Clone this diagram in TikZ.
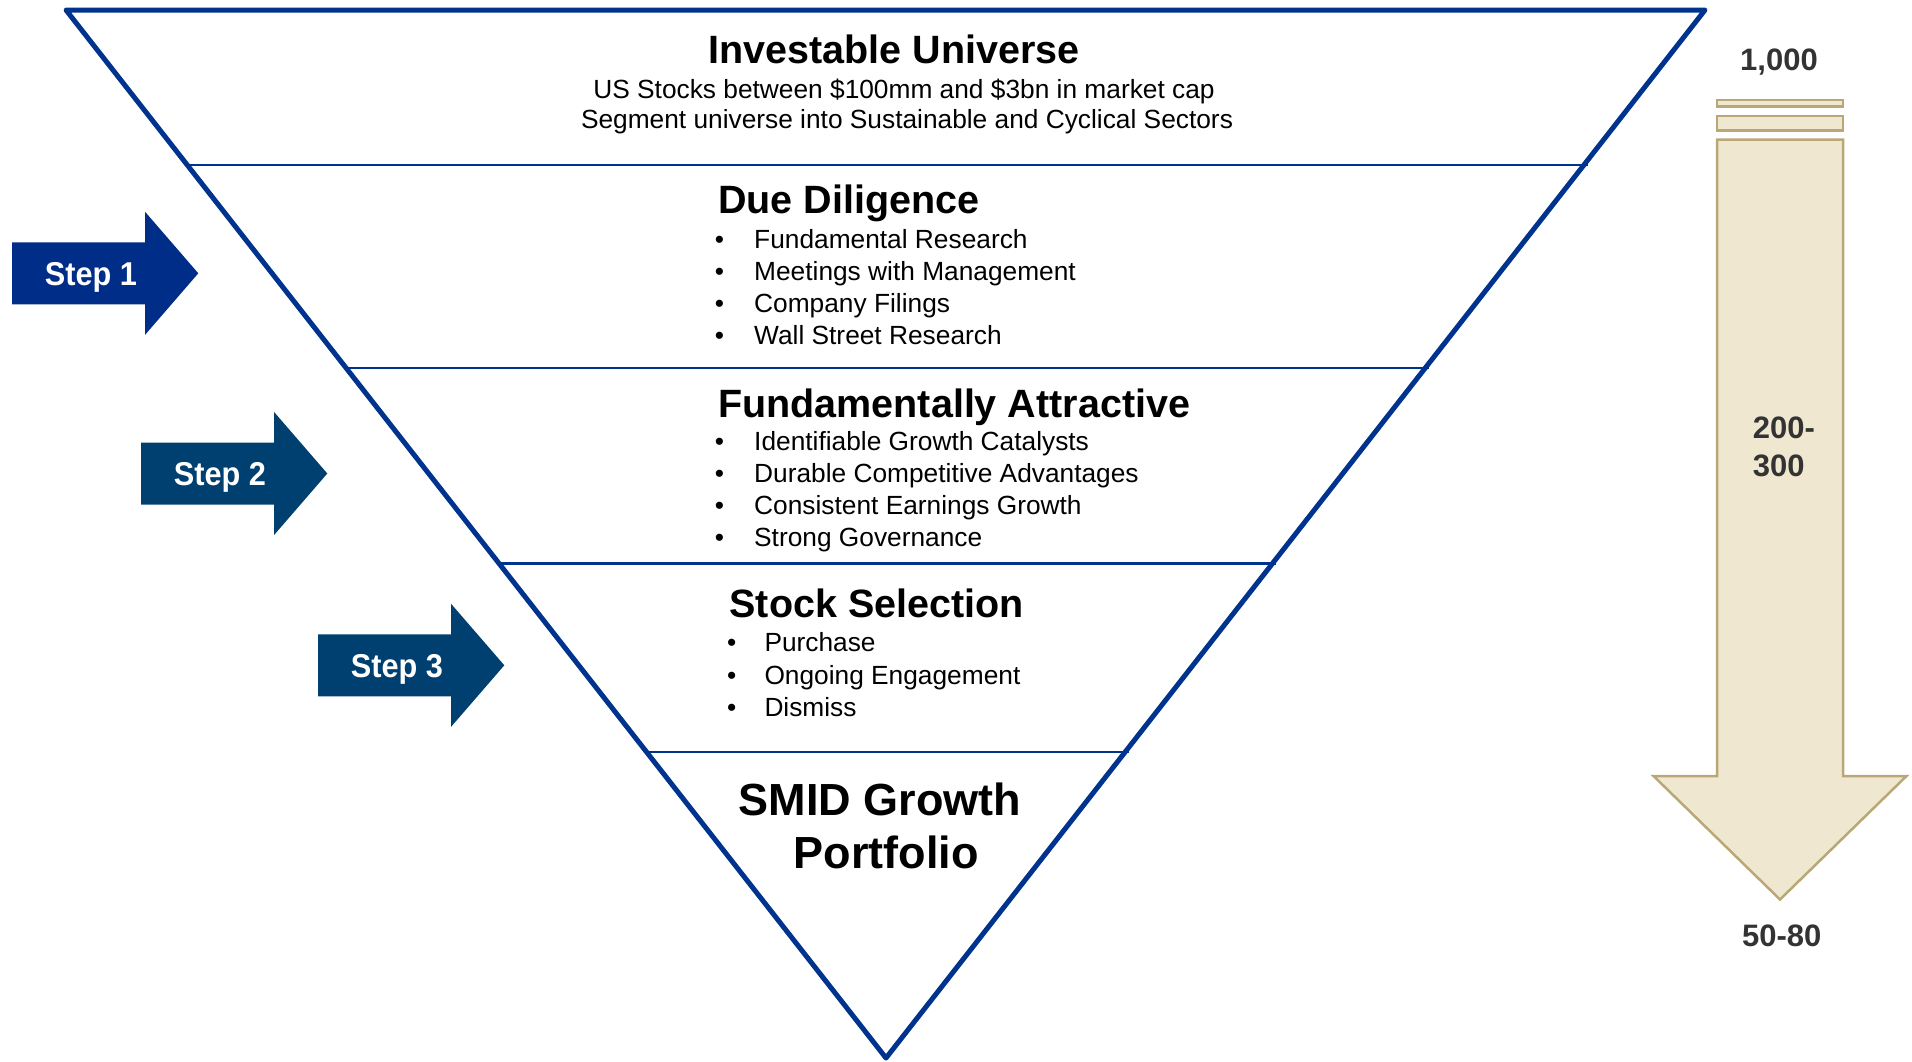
\documentclass[tikz,border=0pt]{standalone}
\usepackage{graphicx}
\usepackage{fontspec}
\setmainfont{Liberation Sans}
\usetikzlibrary{calc}

\definecolor{funnelblue}{RGB}{0,51,141}
\definecolor{stepblue}{RGB}{0,45,135}
\definecolor{stepnavy}{RGB}{0,64,113}
\definecolor{tanfill}{RGB}{239,231,208}
\definecolor{tanline}{RGB}{185,168,118}
\definecolor{countgray}{RGB}{51,51,51}

\tikzset{
  funnel/.style={draw=funnelblue, line width=5pt, line join=round},
  tier/.style={draw=funnelblue, line width=2.2pt},
  heading/.style={inner sep=0pt, anchor=base west, font=\fontsize{39.5}{45}\selectfont\bfseries},
  centerhead/.style={inner sep=0pt, anchor=base, font=\fontsize{39.5}{45}\selectfont\bfseries},
  bighead/.style={inner sep=0pt, anchor=base, font=\fontsize{45}{52}\selectfont\bfseries},
  subline/.style={inner sep=0pt, anchor=base, font=\fontsize{26.3}{30}\selectfont},
  item/.style={inner sep=0pt, anchor=base west, font=\fontsize{26.3}{30}\selectfont},
  steplabel/.style={inner sep=0pt, anchor=base, text=white, font=\fontsize{33}{38}\selectfont\bfseries},
  countlabel/.style={inner sep=0pt, text=countgray, font=\fontsize{31}{36}\selectfont\bfseries},
  tanshape/.style={fill=tanfill, draw=tanline, line width=2.5pt, line join=miter},
}

% block arrow pointing right: name, left x, centre y, colour, label
\newcommand{\drawStepArrow}[5]{%
  \fill[#4] (#2,#3-31) -- ++(133,0) -- ++(0,-30.6) -- ++(53.3,61.6)
    -- ++(-53.3,61.6) -- ++(0,-30.6) -- ++(-133,0) -- cycle;
  \node[steplabel] (#1) at (#2+79,#3+12) {\scalebox{0.93}[1]{#5}};
}

\begin{document}
\begin{tikzpicture}[x=1pt,y=-1pt]
\useasboundingbox (0,0) rectangle (1912,1061);

% funnel corners
\coordinate (tl) at (66,10);
\coordinate (tr) at (1705,10);
\coordinate (ap) at (886,1058);

% tier dividers
\foreach \t/\n in {0.1479/1,0.3413/2,0.5282/3,0.7077/4} {
  \coordinate (l\n) at ($(tl)!\t!(ap)$);
  \coordinate (r\n) at ($(tr)!\t!(ap)$);
  \draw[tier] (l\n) -- ($(r\n)+(4,0)$);
}
\draw[funnel] (tl) -- (tr) -- (ap) -- cycle;

% tier 1
\node[centerhead] (univ) at (894,63) {Investable Universe};
\node[subline] (univa) at (904,98) {US Stocks between \$100mm and \$3bn in market cap};
\node[subline] (univb) at (907,128) {Segment universe into Sustainable and Cyclical Sectors};

% tier 2
\node[heading] (dd) at (718,213) {Due Diligence};
\node[item] (dd1) at (714.7,248) {\makebox[39.3pt][l]{•}Fundamental Research};
\node[item] (dd2) at (714.7,280) {\makebox[39.3pt][l]{•}Meetings with Management};
\node[item] (dd3) at (714.7,312) {\makebox[39.3pt][l]{•}Company Filings};
\node[item] (dd4) at (714.7,344) {\makebox[39.3pt][l]{•}Wall Street Research};

% tier 3
\node[heading] (fa) at (718,417) {Fundamentally Attractive};
\node[item] (fa1) at (714.7,450.5) {\makebox[39.3pt][l]{•}Identifiable Growth Catalysts};
\node[item] (fa2) at (714.7,482.5) {\makebox[39.3pt][l]{•}Durable Competitive Advantages};
\node[item] (fa3) at (714.7,514.5) {\makebox[39.3pt][l]{•}Consistent Earnings Growth};
\node[item] (fa4) at (714.7,546.5) {\makebox[39.3pt][l]{•}Strong Governance};

% tier 4
\node[heading] (ss) at (729.3,617.3) {Stock Selection};
\node[item] (ss1) at (727,651.7) {\makebox[37.3pt][l]{•}Purchase};
\node[item] (ss2) at (727,684.2) {\makebox[37.3pt][l]{•}Ongoing Engagement};
\node[item] (ss3) at (727,716.7) {\makebox[37.3pt][l]{•}Dismiss};

% tier 5
\node[bighead] (pfa) at (880,815) {SMID Growth};
\node[bighead] (pfb) at (886,868) {Portfolio};

% step arrows
\drawStepArrow{step1}{12}{273.3}{stepblue}{Step 1}
\drawStepArrow{step2}{141}{473.5}{stepnavy}{Step 2}
\drawStepArrow{step3}{318}{665.3}{stepnavy}{Step 3}

% narrowing count arrow
\filldraw[tanshape] (1717,100) rectangle (1843,106.5);
\filldraw[tanshape] (1717,116) rectangle (1843,130.5);
\filldraw[tanshape] (1717,139.5) -- (1843,139.5) -- (1843,776) -- (1906.5,776)
  -- (1780,899.5) -- (1653.5,776) -- (1717,776) -- cycle;

\node[countlabel, anchor=base] (c1000) at (1779,70) {1,000};
\node[countlabel, anchor=base west] (c200) at (1752.7,438.3) {200-};
\node[countlabel, anchor=base west] (c300) at (1752.7,476.7) {300};
\node[countlabel, anchor=base] (c50) at (1781.7,946.7) {50-80};
\end{tikzpicture}
\end{document}
